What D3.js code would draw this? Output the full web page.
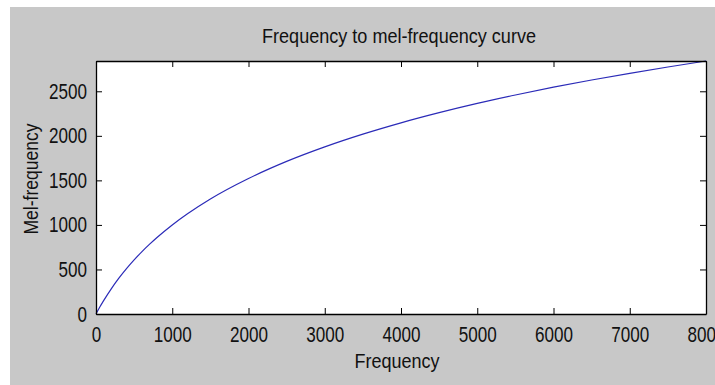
<!DOCTYPE html>
<html>
<head>
<meta charset="utf-8">
<script src="https://cdn.jsdelivr.net/npm/d3@7"></script>
<style>
  body { margin: 0; background: #fff; }
  text { font-family: "Liberation Sans", Arial, sans-serif; fill: #111; }
</style>
</head>
<body>
<svg id="chart" width="715" height="385"></svg>
<script>
// values
freqList = [0, 50, 100, 200, 300, 400, 500, 600, 700, 800, 1000, 1200, 1500, 2000, 2500, 3000, 3500, 4000, 4500, 5000, 5500, 6000, 6500, 7000, 7500, 8000];
melList = [0, 78, 150, 283, 402, 509, 607, 698, 781, 859, 1000, 1125, 1291, 1521, 1713, 1876, 2019, 2146, 2260, 2364, 2458, 2546, 2627, 2702, 2773, 2840];
xTicks = [0, 1000, 2000, 3000, 4000, 5000, 6000, 7000, 8000];
yTicks = [0, 500, 1000, 1500, 2000, 2500];
titleText = "Frequency to mel-frequency curve";
xLabel = "Frequency";
yLabel = "Mel-frequency";

let svg = d3.select("#chart");

// figure background
svg.append("rect")
    .attr("x", 10).attr("y", 7)
    .attr("width", 705).attr("height", 378)
    .attr("fill", "#c8c8c8");

let plotLeft = 96, plotRight = 706, plotTop = 61, plotBottom = 314;

let x = d3.scaleLinear().domain([0, 8000]).range([plotLeft, plotRight]);
let y = d3.scaleLinear().domain([0, 2840]).range([plotBottom, plotTop]);

// axes area
svg.append("rect")
    .attr("x", plotLeft).attr("y", plotTop)
    .attr("width", plotRight - plotLeft).attr("height", plotBottom - plotTop)
    .attr("fill", "#fff");

let line = d3.line()
    .x((d, i) => x(freqList[i]))
    .y((d, i) => y(melList[i]))
    .curve(d3.curveMonotoneX);

svg.append("path")
    .datum(melList)
    .attr("d", line)
    .attr("fill", "none")
    .attr("stroke", "#2b2bb8")
    .attr("stroke-width", 1.2);

// MATLAB style box with inward ticks on all four sides
let fmt = d3.format("d");
svg.append("g")
    .attr("transform", "translate(0," + plotBottom + ")")
    .call(d3.axisBottom(x).tickValues(xTicks).tickSizeInner(-6).tickSizeOuter(0).tickPadding(12).tickFormat(fmt));
svg.append("g")
    .attr("transform", "translate(0," + plotTop + ")")
    .call(d3.axisTop(x).tickValues(xTicks).tickSizeInner(-6).tickSizeOuter(0).tickFormat(""));
svg.append("g")
    .attr("transform", "translate(" + plotLeft + ",0)")
    .call(d3.axisLeft(y).tickValues(yTicks).tickSizeInner(-6).tickSizeOuter(0).tickPadding(9).tickFormat(fmt));
svg.append("g")
    .attr("transform", "translate(" + plotRight + ",0)")
    .call(d3.axisRight(y).tickValues(yTicks).tickSizeInner(-6).tickSizeOuter(0).tickFormat(""));

svg.selectAll(".domain").attr("stroke", "#000").attr("stroke-width", 1.3);
svg.selectAll(".tick line").attr("stroke", "#000");
// narrow digits like the old windows font
svg.selectAll(".tick text")
    .attr("font-size", 22)
    .attr("font-family", null)
    .attr("fill", "#111")
    .attr("textLength", function () { return this.textContent.length * 9.5; })
    .attr("lengthAdjust", "spacingAndGlyphs");

svg.append("text")
    .attr("x", 399).attr("y", 43)
    .attr("text-anchor", "middle")
    .attr("font-size", 21)
    .attr("textLength", 274)
    .attr("lengthAdjust", "spacingAndGlyphs")
    .text(titleText);

svg.append("text")
    .attr("x", 397).attr("y", 368)
    .attr("text-anchor", "middle")
    .attr("font-size", 21)
    .attr("textLength", 85)
    .attr("lengthAdjust", "spacingAndGlyphs")
    .text(xLabel);

svg.append("text")
    .attr("transform", "translate(38,179) rotate(-90)")
    .attr("text-anchor", "middle")
    .attr("font-size", 21)
    .attr("textLength", 111)
    .attr("lengthAdjust", "spacingAndGlyphs")
    .text(yLabel);
</script>
</body>
</html>
